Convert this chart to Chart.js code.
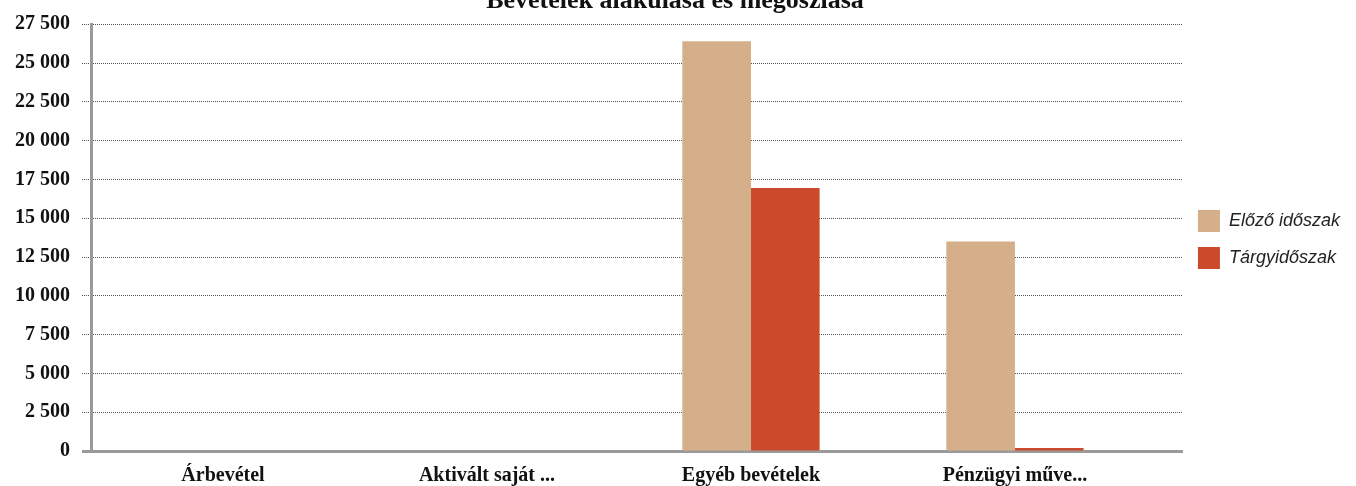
<!DOCTYPE html>
<html>
<head>
<meta charset="utf-8">
<script src="https://cdn.jsdelivr.net/npm/chart.js@4.4.1/dist/chart.umd.min.js"></script>
<style>
  html, body { margin: 0; padding: 0; background: #fff; overflow: hidden; }
  #wrap { position: absolute; left: 0; top: -14px; width: 1356px; height: 507px; }
</style>
</head>
<body>
<div id="wrap"><canvas id="chart"></canvas></div>
<script>
// Bevételek alakulása és megoszlása
const categories = ['Árbevétel', 'Aktivált saját ...', 'Egyéb bevételek', 'Pénzügyi műve...'];
const elozoIdoszak = [0, 0, 26400, 13500];
const targyidoszak = [0, 0, 16950, 200];
const yTickLabels = ['0', '2 500', '5 000', '7 500', '10 000', '12 500', '15 000',
                     '17 500', '20 000', '22 500', '25 000', '27 500'];
const yMax = 27500;
const yStep = 2500;

const serif = "'Liberation Serif', 'Times New Roman', serif";
const sans = "'Liberation Sans', Arial, sans-serif";

const gridColor = ctx => ctx.tick && ctx.tick.value === 0 ? '#9a9a9a' : '#555';
const gridWidth = ctx => ctx.tick && ctx.tick.value === 0 ? 3 : 1;
const gridDash = ctx => ctx.tick && ctx.tick.value === 0 ? [] : [1, 1];

const ctx = document.getElementById('chart');
new Chart(ctx, {
    type: 'bar',
    data: {
        labels: categories,
        datasets: [{
            label: 'Előző időszak',
            data: elozoIdoszak,
            backgroundColor: '#d4af8a',
            categoryPercentage: 0.52,
            barPercentage: 1.0
        }, {
            label: 'Tárgyidőszak',
            data: targyidoszak,
            backgroundColor: '#cc4a2c',
            categoryPercentage: 0.52,
            barPercentage: 1.0
        }]
    },
    options: {
        responsive: true,
        maintainAspectRatio: false,
        animation: false,
        layout: { padding: { left: 0, right: 6, top: 0, bottom: 0 } },
        plugins: {
            title: {
                display: true,
                text: 'Bevételek alakulása és megoszlása',
                color: '#111',
                font: { family: serif, size: 26, weight: 'bold' },
                padding: { top: 0, bottom: 7 }
            },
            legend: {
                position: 'right',
                labels: {
                    boxWidth: 22,
                    boxHeight: 22,
                    padding: 15,
                    color: '#222',
                    font: { family: sans, size: 18, style: 'italic' }
                }
            },
            tooltip: { enabled: false }
        },
        scales: {
            x: {
                grid: { display: false },
                border: { display: true, color: '#9a9a9a', width: 3 },
                ticks: {
                    color: '#111',
                    padding: 5,
                    maxRotation: 0,
                    font: { family: serif, size: 20, weight: 'bold' }
                }
            },
            y: {
                min: 0,
                max: yMax,
                afterFit: s => { s.width = 91; },
                ticks: {
                    stepSize: yStep,
                    color: '#111',
                    padding: 12,
                    font: { family: serif, size: 20, weight: 'bold' },
                    callback: (v, i) => yTickLabels[i]
                },
                grid: {
                    color: ctx => ctx.tick && ctx.tick.value === 0 ? 'rgba(0,0,0,0)' : '#555',
                    lineWidth: 1,
                    tickLength: 9,
                    tickColor: gridColor,
                    tickWidth: gridWidth,
                    tickBorderDash: gridDash
                },
                border: { display: true, color: '#9a9a9a', width: 3, dash: [1, 1] }
            },
            // right-hand spacer: carries the dotted gridlines on past the last category
            y2: {
                position: 'right',
                min: 0,
                max: yMax,
                afterFit: s => { s.width = 36; },
                ticks: { stepSize: yStep, display: false },
                grid: {
                    drawOnChartArea: false,
                    drawTicks: true,
                    tickLength: 36,
                    tickColor: gridColor,
                    tickWidth: gridWidth,
                    tickBorderDash: gridDash
                },
                border: { display: false }
            }
        }
    }
});
</script>
</body>
</html>
